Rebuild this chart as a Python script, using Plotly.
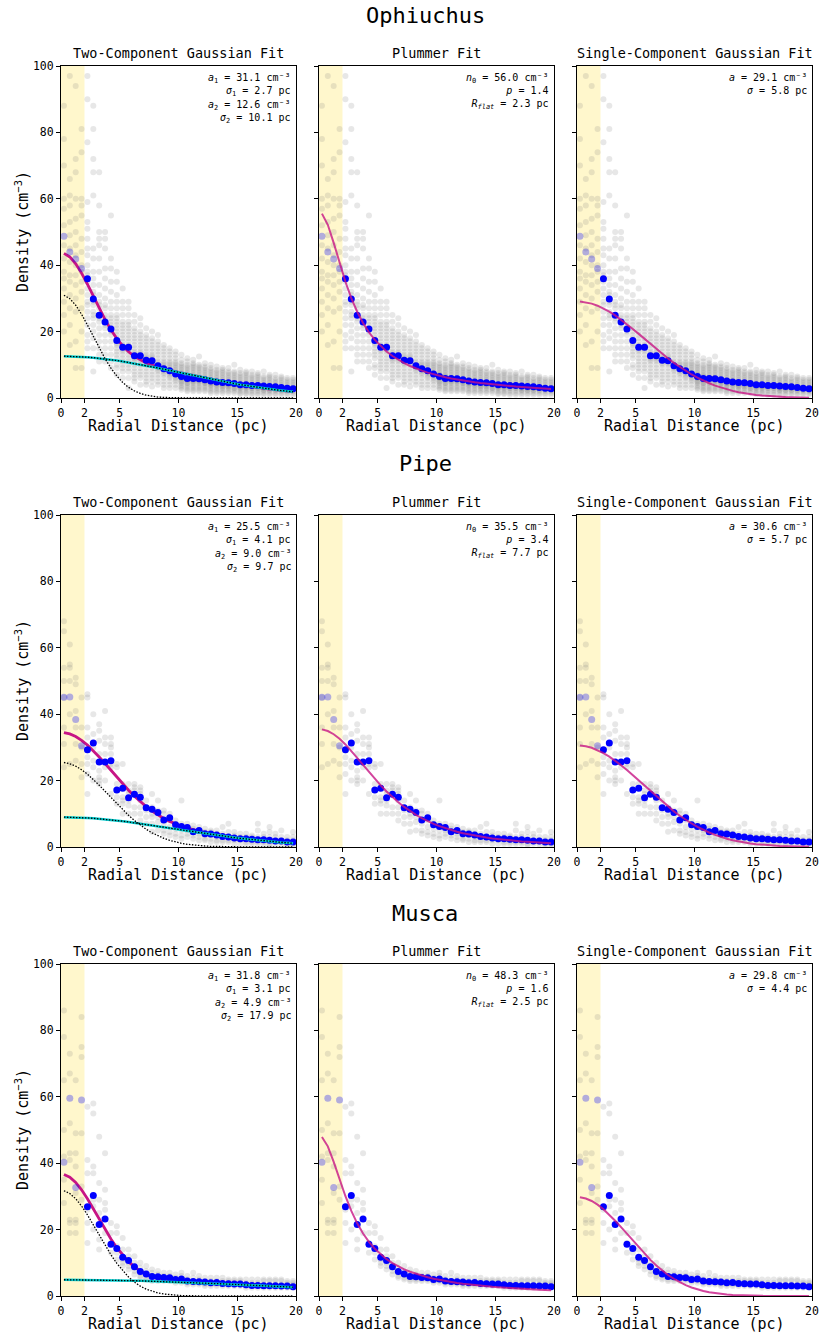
import math
import plotly.graph_objects as go

W, H = 822, 1333
FONT = "DejaVu Sans Mono"

# ---------------- data ----------------
r_bins = [0.25, 0.75, 1.25, 1.75, 2.25, 2.75, 3.25, 3.75, 4.25, 4.75,
          5.25, 5.75, 6.25, 6.75, 7.25, 7.75, 8.25, 8.75, 9.25, 9.75,
          10.25, 10.75, 11.25, 11.75, 12.25, 12.75, 13.25, 13.75, 14.25, 14.75,
          15.25, 15.75, 16.25, 16.75, 17.25, 17.75, 18.25, 18.75, 19.25, 19.75]

oph_mean = [48.7, 44.0, 41.9, 39.0, 35.9, 29.8, 24.9, 22.9, 20.8, 17.3,
            15.3, 15.3, 12.7, 12.7, 11.4, 11.2, 9.7, 8.8, 8.2, 7.2,
            6.5, 5.9, 5.9, 5.8, 5.5, 5.1, 4.8, 4.7, 4.6, 4.4,
            4.0, 4.0, 3.8, 3.8, 3.6, 3.5, 3.4, 3.2, 2.9, 2.8]

pipe_mean = [45.1, 45.2, 38.4, 30.5, 29.3, 31.3, 25.6, 25.6, 26.0, 17.2,
             17.7, 14.8, 15.9, 15.0, 11.8, 11.4, 10.4, 8.1, 8.8, 6.7,
             6.2, 5.9, 4.6, 5.0, 4.0, 3.9, 3.6, 3.2, 3.0, 2.7,
             2.5, 2.5, 2.3, 2.2, 2.2, 2.0, 1.8, 1.8, 1.5, 1.5]

musca_mean = [40.3, 59.6, 32.7, 59.0, 26.9, 30.3, 21.5, 23.2, 15.6, 14.3,
              11.7, 10.7, 8.8, 7.4, 6.6, 5.9, 5.8, 5.6, 5.5, 5.0,
              5.1, 4.5, 4.4, 4.3, 4.2, 4.0, 4.1, 3.8, 3.7, 3.6,
              3.6, 3.4, 3.2, 3.2, 3.1, 3.1, 3.1, 3.0, 3.0, 2.8]

oph_samples = [
    [88, 78, 70, 60, 57, 52, 46, 42, 38, 36, 33, 29, 25, 20],
    [97, 66, 61, 58, 53, 49, 45, 41, 37, 35, 31, 27, 22, 16],
    [94, 72, 68, 60, 54, 50, 46, 43, 40, 37, 34, 30, 26, 17, 9],
    [81, 74, 60, 58, 55, 48, 44, 40, 38, 35, 32, 27, 20, 9],
    [97, 90, 77, 59, 53, 51, 48, 45, 43, 40, 38, 37, 35, 33, 31, 29, 28, 26, 24, 22, 19, 17, 15],
    [88, 81, 72, 68, 61, 45, 42, 38, 36, 34, 32, 31, 29, 28, 26, 25, 24, 22, 20, 18, 15, 8],
    [68, 58, 50, 48, 46, 42, 38, 34, 31, 29, 28, 27, 25, 24, 23, 21, 19, 17, 15, 13, 11],
    [50, 48, 45, 39, 36, 33, 30, 28, 27, 25, 24, 23, 22, 21, 19, 17, 15, 13, 11],
    [55, 42, 39, 35, 32, 29, 27, 25, 24, 23, 22, 21, 20, 19, 17, 15, 13, 11, 9],
    [38, 35, 31, 29, 27, 25, 24, 23, 22, 21, 20, 19, 18, 17, 16.5, 16, 15, 14, 13, 12, 10, 9, 7],
    [33, 29, 27, 25, 23, 22, 21, 20, 19, 18, 17, 16, 15.5, 15, 14.5, 14, 13, 12, 11, 10, 9, 8, 6],
    [29, 27, 25, 23, 22, 21, 20, 19, 18, 17, 16, 15.5, 15, 14.5, 14, 13, 12, 11, 10, 9, 8, 6, 3],
    [25, 23, 21, 20, 19, 18, 17, 16, 15, 14, 13.5, 13, 12.5, 12, 11.5, 11, 10, 9, 8, 7, 6, 5],
    [24, 22, 20, 19, 18, 17, 16, 15, 14, 13.5, 13, 12.5, 12, 11.5, 11, 10, 9, 8, 7, 6, 4],
    [21, 19, 18, 17, 16, 15, 14, 13, 12.5, 12, 11.5, 11, 10.5, 10, 9, 8, 7, 6, 5, 4],
    [20, 18, 17, 16, 15, 14, 13, 12.5, 12, 11.5, 11, 10.5, 10, 9, 8, 7, 6, 5, 3.5],
    [19, 17, 16, 15, 14, 13, 12, 11, 10.5, 10, 9.5, 9, 8.5, 8, 7, 6, 5, 4],
    [16, 15, 14, 13, 12, 11, 10.5, 10, 9.5, 9, 8.5, 8, 7.5, 7, 6, 5, 4, 3],
    [15, 14, 13, 12, 11, 10.5, 10, 9.5, 9, 8.5, 8, 7.5, 7, 6.5, 6, 5, 4, 3],
    [14, 13, 12, 11, 10.5, 10, 9.5, 9, 8.5, 8, 7.5, 7, 6.5, 6, 5.5, 5, 4, 3],
    [13, 11.5, 10.5, 10, 9.5, 9, 8.5, 8, 7.5, 7, 7, 6.5, 6.5, 6, 6, 5.5, 5, 5, 4.5, 4, 3.5, 3, 2.5],
    [12, 11, 10, 9.5, 9, 8.5, 8, 7.5, 7, 6.5, 6.5, 6, 6, 5.5, 5.5, 5, 4.5, 4.5, 4, 3.5, 3, 2.5, 2],
    [11.5, 10.5, 10, 9.5, 9, 8.5, 8, 7.5, 7, 6.5, 6, 6, 5.5, 5.5, 5, 5, 4.5, 4, 3.5, 3, 2.5, 2],
    [12.5, 10, 9.5, 9, 8.5, 8, 7.5, 7, 6.5, 6, 6, 5.5, 5.5, 5, 5, 4.5, 4, 3.5, 3, 2.5, 2],
    [10.5, 9.5, 9, 8.5, 8, 7.5, 7, 6.5, 6, 5.5, 5.5, 5, 5, 4.5, 4.5, 4, 3.5, 3, 2.5, 2],
    [10, 9, 8.5, 8, 7.5, 7, 6.5, 6, 5.5, 5, 5, 4.5, 4.5, 4, 4, 3.5, 3, 2.5, 2, 1.5],
    [9.5, 8.5, 8, 7.5, 7, 6.5, 6, 5.5, 5, 5, 4.5, 4.5, 4, 4, 3.5, 3, 2.5, 2, 1.5],
    [9, 8.5, 8, 7.5, 7, 6.5, 6, 5.5, 5, 4.5, 4.5, 4, 4, 3.5, 3.5, 3, 2.5, 2, 1.5],
    [9, 8, 7.5, 7, 6.5, 6, 5.5, 5, 4.5, 4.5, 4, 4, 3.5, 3.5, 3, 2.5, 2, 1.5],
    [10, 8, 7.5, 7, 6.5, 6, 5.5, 5, 4.5, 4.5, 4, 4, 3.5, 3, 3, 2.5, 2, 1.5],
    [8.5, 7.5, 7, 6.5, 6, 5.5, 5, 4.5, 4, 4, 3.5, 3.5, 3, 3, 2.5, 2, 1.5, 1.2],
    [8, 7.5, 7, 6.5, 6, 5.5, 5, 4.5, 4, 4, 3.5, 3.5, 3, 3, 2.5, 2, 1.5, 1.2],
    [8, 7, 6.5, 6, 5.5, 5, 4.5, 4, 4, 3.5, 3.5, 3, 3, 2.5, 2, 1.5, 1],
    [7.5, 7, 6.5, 6, 5.5, 5, 4.5, 4, 4, 3.5, 3.5, 3, 3, 2.5, 2, 1.5, 1],
    [8, 6.5, 6, 5.5, 5, 4.5, 4, 3.5, 3.5, 3, 3, 2.5, 2.5, 2, 1.5, 1],
    [7, 6.5, 6, 5.5, 5, 4.5, 4, 3.5, 3.5, 3, 3, 2.5, 2.5, 2, 1.5, 1],
    [7, 6, 5.5, 5, 4.5, 4, 3.5, 3.5, 3, 3, 2.5, 2.5, 2, 1.5, 1],
    [6.5, 6, 5.5, 5, 4.5, 4, 3.5, 3, 3, 2.5, 2.5, 2, 1.5, 1],
    [6, 5.5, 5, 4.5, 4, 3.5, 3, 3, 2.5, 2.5, 2, 1.5, 1],
    [6, 5.5, 5, 4.5, 4, 3.5, 3, 3, 2.5, 2.5, 2, 1.5, 1],
]

pipe_samples = [
    [68, 65, 54, 50, 45, 36, 31, 24],
    [61, 55, 54, 50, 40, 25],
    [51, 49, 41, 36, 31, 26],
    [45, 36, 30, 25, 21],
    [46, 45, 36, 33, 29, 27, 25, 22, 16],
    [40, 34, 30, 26, 24, 20],
    [37, 35, 32, 28, 23, 21, 20, 19],
    [41, 33, 31, 28, 24, 20],
    [33, 31, 30, 28, 25, 24, 16],
    [25, 24, 19, 17, 15, 13],
    [25, 19, 15, 14, 13, 10],
    [19, 17, 16, 14, 12.5, 10],
    [19, 18, 17, 16, 12, 10],
    [18, 17, 16, 14, 12, 10, 8],
    [14, 12, 11, 9, 7],
    [16, 12, 10, 9, 7, 4.6],
    [14, 11, 9, 7.5, 5],
    [11, 10, 7, 5, 4],
    [10, 8, 6, 4.5, 3.5],
    [8, 7, 5.5, 4, 3],
    [14, 7, 6, 5, 3.5, 2.5],
    [7, 6, 5, 4, 3],
    [6.5, 5.5, 4.5, 3.5, 2.5],
    [6, 5, 4, 3, 2],
    [5.5, 4.5, 3.5, 2.5, 2],
    [5, 4.5, 3.5, 2.5, 1.5],
    [5, 4, 3, 2, 1.5],
    [6, 4, 3, 2, 1.5],
    [7, 4.5, 3, 2, 1.5],
    [4.5, 3.5, 2.5, 2, 1],
    [4, 3, 2.5, 2, 1],
    [4, 3, 2.5, 1.5, 1],
    [3.5, 3, 2, 1.5, 1],
    [7, 5, 3, 2, 1.5, 1],
    [4, 3, 2, 1.5, 1],
    [6, 4.5, 3, 2, 1, 0.5],
    [4, 3, 2, 1.5, 1],
    [5, 3, 2, 1.5, 0.8],
    [3, 2, 1.5, 1, 0.5],
    [4.5, 3, 2, 1, 0.5],
]

musca_samples = [
    [86, 78, 65, 50, 42, 35, 28],
    [73, 67, 52, 43, 41, 23, 22, 19],
    [65, 49, 43, 39, 31, 23, 22, 19],
    [84, 75, 72, 49, 33, 29],
    [57, 41, 37, 26, 22, 16],
    [58, 55, 39, 37, 29, 27, 20],
    [48, 34, 29, 25, 17, 14],
    [43, 32, 28, 26, 19],
    [22, 19, 16, 13],
    [21, 19, 15, 13, 11],
    [17.5, 14, 11, 10, 9],
    [14, 12, 10, 9, 8],
    [12, 10, 8.5, 7.5, 6.5],
    [10, 8.5, 7, 6, 5.5],
    [9, 7.5, 6.5, 5.5, 5],
    [8, 7, 6, 5, 4.5],
    [7.5, 6.5, 5.5, 5, 4.5],
    [7, 6, 5.5, 5, 4.5],
    [7, 6, 5.5, 5, 4.5],
    [6.5, 5.5, 5, 4.5, 4],
    [7, 6, 5, 4.5, 4],
    [6, 5, 4.5, 4, 3.5],
    [7, 5.5, 4.5, 4, 3.5],
    [6, 5, 4.5, 4, 3.5],
    [5.5, 4.5, 4, 3.5, 3],
    [5.5, 4.5, 4, 3.5, 3],
    [5.5, 4.5, 4, 3.5, 3],
    [5.5, 4.5, 4, 3.5, 3],
    [5, 4.5, 4, 3.5, 3],
    [5, 4.5, 4, 3.5, 3],
    [5, 4.5, 4, 3.5, 3],
    [5, 4, 3.5, 3, 2.5],
    [5, 4, 3.5, 3, 2.5],
    [5, 4, 3.5, 3, 2.5],
    [5, 4.5, 3.5, 3, 2.5],
    [5, 4.5, 3.5, 3, 2.5],
    [5, 4.5, 3.5, 3, 2.5],
    [5, 4.5, 3.5, 3, 2.5],
    [4.5, 4, 3.5, 3, 2.5],
    [4.5, 4, 3.5, 3, 2.5],
]

cloud_names = ["Ophiuchus", "Pipe", "Musca"]
# two-component (a1, s1, a2, s2), plummer (n0, p, Rflat), single (a, s)
two_params = [(31.1, 2.7, 12.6, 10.1), (25.5, 4.1, 9.0, 9.7), (31.8, 3.1, 4.9, 17.9)]
plummer_params = [(56.0, 1.4, 2.3), (35.5, 3.4, 7.7), (48.3, 1.6, 2.5)]
single_params = [(29.1, 5.8), (30.6, 5.7), (29.8, 4.4)]
panel_titles = ["Two-Component Gaussian Fit", "Plummer Fit", "Single-Component Gaussian Fit"]
x_ticks = [0, 2, 5, 10, 15, 20]
y_ticks = [0, 20, 40, 60, 80, 100]
core_edge = 2.0

means = [oph_mean, pipe_mean, musca_mean]
samples = [oph_samples, pipe_samples, musca_samples]


# ---------------- models ----------------
def gauss(r, a, s):
    return a * math.exp(-r * r / (2 * s * s))


def plummer(r, n0, p, R):
    return n0 / (1 + (r / R) ** 2) ** (p / 2)


# ---------------- layout geometry (pixels) ----------------
col_px = [(61, 296), (319, 554), (577, 812)]
row_px = [(66, 398), (515, 847), (964, 1296)]


def px_x(px):
    return px / W


def px_y(py):
    return 1 - py / H


fig = go.Figure()
layout = dict(
    template="none",
    width=W, height=H, autosize=False,
    margin=dict(l=0, r=0, t=0, b=0, pad=0, autoexpand=False),
    paper_bgcolor="white", plot_bgcolor="white",
    showlegend=False, hovermode=False,
    font=dict(family=FONT, color="black"),
)
annotations = []
shapes = []

GREY = "rgba(128,128,128,0.19)"
BLUE = "rgb(0,0,255)"
BLUE_FADED = "rgba(0,0,255,0.3)"
MAGENTA = "rgb(199,21,133)"
MAGENTA_LIGHT = "rgba(199,21,133,0.8)"
CYAN = "rgb(0,206,209)"
DOTS = "1.5px,1.5px"

for ri in range(3):
    rtop, rbot = row_px[ri]
    annotations.append(dict(text=cloud_names[ri], x=px_x(425), y=px_y(rtop - 51),
                            xref="paper", yref="paper", showarrow=False,
                            xanchor="center", yanchor="middle", borderpad=0,
                            font=dict(family=FONT, size=22, color="black")))
    gx, gy = [], []
    for r, vals in zip(r_bins, samples[ri]):
        for v in vals:
            gx.append(r)
            gy.append(v)
    mx_in = [r for r in r_bins if r < core_edge]
    my_in = [m for r, m in zip(r_bins, means[ri]) if r < core_edge]
    mx_out = [r for r in r_bins if r >= core_edge]
    my_out = [m for r, m in zip(r_bins, means[ri]) if r >= core_edge]

    for ci in range(3):
        idx = ri * 3 + ci + 1
        xa = "x" if idx == 1 else f"x{idx}"
        ya = "y" if idx == 1 else f"y{idx}"
        cl, cr = col_px[ci]
        layout["xaxis" if idx == 1 else f"xaxis{idx}"] = dict(
            domain=[px_x(cl), px_x(cr)], anchor=ya, range=[0, 20], automargin=False,
            tickmode="array", tickvals=x_ticks, ticktext=[str(t) for t in x_ticks],
            ticks="outside", ticklen=4, tickwidth=1, tickcolor="black",
            showline=True, mirror=True, linecolor="black", linewidth=1,
            showgrid=False, zeroline=False,
            tickfont=dict(family=FONT, size=11.5, color="black"),
        )
        layout["yaxis" if idx == 1 else f"yaxis{idx}"] = dict(
            domain=[px_y(rbot), px_y(rtop)], anchor=xa, range=[0, 100], automargin=False,
            tickmode="array", tickvals=y_ticks, ticktext=[str(t) for t in y_ticks],
            ticks="outside", ticklen=4, tickwidth=1, tickcolor="black",
            showline=True, mirror=True, linecolor="black", linewidth=1,
            showgrid=False, zeroline=False, showticklabels=(ci == 0),
            tickfont=dict(family=FONT, size=11.5, color="black"),
        )
        shapes.append(dict(type="rect", xref=xa, yref=ya, x0=0, x1=core_edge, y0=0, y1=100,
                           fillcolor="rgba(255,215,0,0.2)", line=dict(width=0), layer="below"))
        fig.add_trace(go.Scatter(x=gx, y=gy, mode="markers", xaxis=xa, yaxis=ya,
                                 marker=dict(size=6, color=GREY, line=dict(width=0)),
                                 hoverinfo="skip"))
        if ci == 0:
            a1, s1, a2, s2 = two_params[ri]
            c1 = [gauss(r, a1, s1) for r in r_bins]
            c2 = [gauss(r, a2, s2) for r in r_bins]
            tot = [u + v for u, v in zip(c1, c2)]
            fig.add_trace(go.Scatter(x=r_bins, y=tot, mode="lines", xaxis=xa, yaxis=ya,
                                     line=dict(color=MAGENTA, width=2.8)))
        elif ci == 1:
            n0, p, R = plummer_params[ri]
            cv = [plummer(r, n0, p, R) for r in r_bins]
        else:
            a, s = single_params[ri]
            cv = [gauss(r, a, s) for r in r_bins]

        fig.add_trace(go.Scatter(x=mx_in, y=my_in, mode="markers", xaxis=xa, yaxis=ya,
                                 marker=dict(size=7, color=BLUE_FADED, line=dict(width=0))))
        fig.add_trace(go.Scatter(x=mx_out, y=my_out, mode="markers", xaxis=xa, yaxis=ya,
                                 marker=dict(size=7, color=BLUE, line=dict(width=0))))

        if ci == 0:
            fig.add_trace(go.Scatter(x=r_bins, y=c2, mode="lines", xaxis=xa, yaxis=ya,
                                     line=dict(color=CYAN, width=2.5)))
            fig.add_trace(go.Scatter(x=r_bins, y=c2, mode="lines", xaxis=xa, yaxis=ya,
                                     line=dict(color="black", width=1.3, dash=DOTS)))
            fig.add_trace(go.Scatter(x=r_bins, y=c1, mode="lines", xaxis=xa, yaxis=ya,
                                     line=dict(color="black", width=1.3, dash=DOTS)))
            txt1 = f"<i>a</i><sub>1</sub> = {a1:.1f} cm⁻³<br><i>σ</i><sub>1</sub> = {s1:.1f} pc"
            txt2 = f"<i>a</i><sub>2</sub> = {a2:.1f} cm⁻³<br><i>σ</i><sub>2</sub> = {s2:.1f} pc"
            blocks = [(txt1, rtop + 5), (txt2, rtop + 32)]
        elif ci == 1:
            fig.add_trace(go.Scatter(x=r_bins, y=cv, mode="lines", xaxis=xa, yaxis=ya,
                                     line=dict(color=MAGENTA_LIGHT, width=2)))
            txt = (f"<i>n</i><sub>0</sub> = {n0:.1f} cm⁻³<br><i>p</i> = {p:.1f}"
                   f"<br><i>R</i><sub><i>flat</i></sub> = {R:.1f} pc")
            blocks = [(txt, rtop + 5)]
        else:
            fig.add_trace(go.Scatter(x=r_bins, y=cv, mode="lines", xaxis=xa, yaxis=ya,
                                     line=dict(color=MAGENTA_LIGHT, width=2)))
            txt = f"<i>a</i> = {a:.1f} cm⁻³<br><i>σ</i> = {s:.1f} pc"
            blocks = [(txt, rtop + 5)]
        for t, ytop in blocks:
            annotations.append(dict(text=t, x=px_x(cr - 4), y=px_y(ytop), xref="paper", yref="paper",
                                    showarrow=False, xanchor="right", yanchor="top", align="right",
                                    borderpad=0,
                                    font=dict(family=FONT, size=10, color="black")))
        annotations.append(dict(text=panel_titles[ci], x=px_x((cl + cr) / 2), y=px_y(rtop - 4),
                                xref="paper", yref="paper", showarrow=False,
                                xanchor="center", yanchor="bottom", borderpad=0,
                                font=dict(family=FONT, size=13.5, color="black")))
        annotations.append(dict(text="Radial Distance (pc)", x=px_x((cl + cr) / 2), y=px_y(rbot + 18),
                                xref="paper", yref="paper", showarrow=False,
                                xanchor="center", yanchor="top", borderpad=0,
                                font=dict(family=FONT, size=15, color="black")))
    annotations.append(dict(text="Density (cm<sup>−3</sup>)", x=px_x(22), y=px_y((rtop + rbot) / 2),
                            xref="paper", yref="paper", showarrow=False, textangle=-90,
                            xanchor="center", yanchor="middle", borderpad=0,
                            font=dict(family=FONT, size=15, color="black")))

layout["annotations"] = annotations
layout["shapes"] = shapes
fig.update_layout(**layout)
fig.write_html("out.html", config={"responsive": False, "displayModeBar": False},
               post_script="document.body.style.margin='0px';document.body.style.overflow='hidden';")
